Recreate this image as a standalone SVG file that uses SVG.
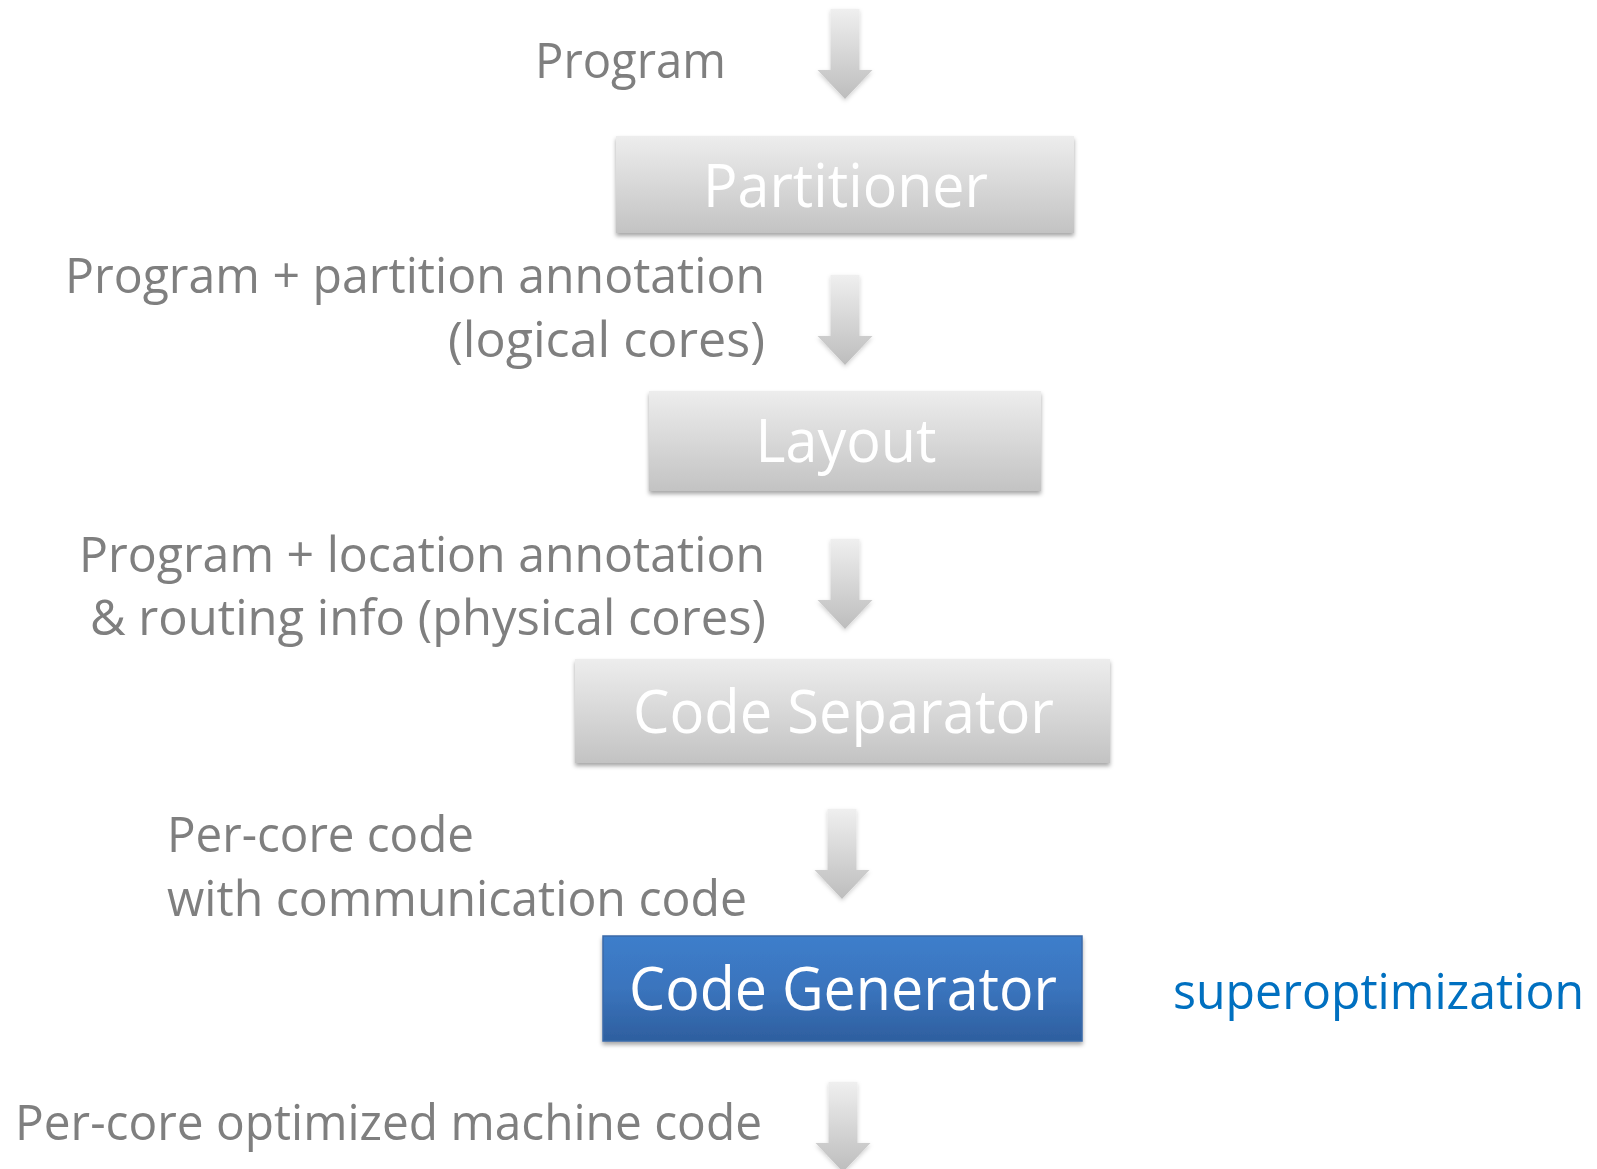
<svg xmlns="http://www.w3.org/2000/svg" width="1597" height="1169" viewBox="0 0 1597 1169">
  <defs>
    <linearGradient id="boxGrey" x1="0" y1="0" x2="0" y2="1">
      <stop offset="0" stop-color="#ededed"/>
      <stop offset="1" stop-color="#c3c3c3"/>
    </linearGradient>
    <linearGradient id="boxBlue" x1="0" y1="0" x2="0" y2="1">
      <stop offset="0" stop-color="#3d7ecb"/>
      <stop offset="0.5" stop-color="#3a74bd"/>
      <stop offset="1" stop-color="#2e5f9f"/>
    </linearGradient>
    <linearGradient id="arrowGrey" x1="0" y1="0" x2="0" y2="1">
      <stop offset="0" stop-color="#efefef"/>
      <stop offset="1" stop-color="#bdbdbd"/>
    </linearGradient>
    <filter id="shadow" x="-10%" y="-20%" width="120%" height="150%">
      <feDropShadow dx="0" dy="3" stdDeviation="2.2" flood-color="#000" flood-opacity="0.35"/>
    </filter>
    <filter id="arrowShadow" x="-30%" y="-20%" width="160%" height="140%">
      <feDropShadow dx="0" dy="2" stdDeviation="2" flood-color="#000" flood-opacity="0.18"/>
    </filter>
    <!-- block arrow pointing down, centred on x=0, shaft top at y=0 -->
    <path id="downArrow" d="M-14.5,0 H14.5 V61 H27.5 L0,90 L-27.5,61 H-14.5 Z"/>
  </defs>
  <style>
    .label { font-family: "Open Sans", "Noto Sans", "Liberation Sans", sans-serif; font-size: 50px; fill: #7f7f7f; }
    .boxText { font-family: "Open Sans", "Noto Sans", "Liberation Sans", sans-serif; font-size: 60px; fill: #ffffff; text-anchor: middle; }
    .grey { fill: url(#boxGrey); filter: url(#shadow); }
    .blue { fill: url(#boxBlue); stroke: #3a6aa8; stroke-width: 1.5; filter: url(#shadow); }
    .arrow { fill: url(#arrowGrey); filter: url(#arrowShadow); }
    .note { font-family: "Open Sans", "Noto Sans", "Liberation Sans", sans-serif; font-size: 50px; fill: #0070c0; }
  </style>

  <rect width="1597" height="1169" fill="#ffffff"/>

  <!-- flow arrows between stages -->
  <g id="connectors">
    <use href="#downArrow" class="arrow" x="845" y="9"/>
    <use href="#downArrow" class="arrow" x="845" y="275"/>
    <use href="#downArrow" class="arrow" x="845" y="539"/>
    <use href="#downArrow" class="arrow" x="842" y="809"/>
    <use href="#downArrow" class="arrow" x="843" y="1082"/>
  </g>

  <!-- data labels beside the arrows -->
  <g id="label-program">
    <text class="label" x="726" y="78" text-anchor="end" textLength="191" lengthAdjust="spacingAndGlyphs">Program</text>
  </g>
  <g id="label-partitioned">
    <text class="label" x="765" y="293" text-anchor="end" textLength="700" lengthAdjust="spacingAndGlyphs">Program + partition annotation</text>
    <text class="label" x="765" y="357" text-anchor="end" textLength="317" lengthAdjust="spacingAndGlyphs">(logical cores)</text>
  </g>
  <g id="label-located">
    <text class="label" x="765" y="572" text-anchor="end" textLength="686" lengthAdjust="spacingAndGlyphs">Program + location annotation</text>
    <text class="label" x="766" y="635" text-anchor="end" textLength="676" lengthAdjust="spacingAndGlyphs">&amp; routing info (physical cores)</text>
  </g>
  <g id="label-percore">
    <text class="label" x="167" y="852" textLength="307" lengthAdjust="spacingAndGlyphs">Per-core code</text>
    <text class="label" x="167" y="916" textLength="580" lengthAdjust="spacingAndGlyphs">with communication code</text>
  </g>
  <g id="label-machine">
    <text class="label" x="15" y="1140" textLength="747" lengthAdjust="spacingAndGlyphs">Per-core optimized machine code</text>
  </g>

  <!-- pipeline stages -->
  <g id="partitioner">
    <rect class="grey" x="616" y="136" width="458" height="97"/>
    <text class="boxText" x="845.5" y="207" textLength="285" lengthAdjust="spacingAndGlyphs">Partitioner</text>
  </g>
  <g id="layout">
    <rect class="grey" x="649" y="391" width="392" height="100"/>
    <text class="boxText" x="846" y="462" textLength="181" lengthAdjust="spacingAndGlyphs">Layout</text>
  </g>
  <g id="code-separator">
    <rect class="grey" x="575" y="659" width="535" height="104"/>
    <text class="boxText" x="843.5" y="733" textLength="421" lengthAdjust="spacingAndGlyphs">Code Separator</text>
  </g>
  <g id="code-generator">
    <rect class="blue" x="603" y="936" width="479" height="105"/>
    <text class="boxText" x="843" y="1010" textLength="428" lengthAdjust="spacingAndGlyphs">Code Generator</text>
  </g>

  <g id="note-superoptimization">
    <text class="note" x="1173" y="1009" textLength="411" lengthAdjust="spacingAndGlyphs">superoptimization</text>
  </g>
</svg>
